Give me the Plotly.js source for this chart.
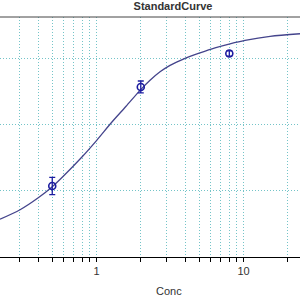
<!DOCTYPE html>
<html>
<head>
<meta charset="utf-8">
<script src="https://cdn.plot.ly/plotly-3.0.1.min.js"></script>
<style>html,body{margin:0;padding:0;background:#fff;}#chart{width:300px;height:300px;}</style>
</head>
<body>
<div id="chart"></div>
<script>
// Fitted standard curve
const curveConc = [0.2206, 0.302, 0.406, 0.500, 0.594, 0.793, 1.003, 1.269, 1.588, 1.977, 2.312, 2.704, 3.162, 4.0, 5.06, 6.40, 8.09, 10.24, 15.15, 24.2];
const curveOD   = [0.569, 0.712, 0.900, 1.059, 1.217, 1.504, 1.760, 2.032, 2.273, 2.514, 2.665, 2.793, 2.891, 2.997, 3.080, 3.155, 3.216, 3.268, 3.329, 3.367];
// Standards (mean and error)
const stdConc = [0.5, 2, 8];
const stdOD   = [1.07, 2.565, 3.07];
const stdErr  = [0.13, 0.09, 0.04];
// Axis ticks
const xTickVals = [0.3,0.4,0.5,0.6,0.7,0.8,0.9,1,2,3,4,5,6,7,8,9,10,20];
const xTickText = ['','','','','','','','1','','','','','','','','','10',''];
const yTickVals = [1, 2, 3];

const navy = '#1c1ca0';
const traces = [
  {x: curveConc, y: curveOD, type: 'scatter', mode: 'lines', line: {color: '#44448c', width: 1.3, shape: 'spline', smoothing: 0.8}, hoverinfo: 'skip'},
  {x: stdConc, y: stdOD, type: 'scatter', mode: 'markers',
   marker: {symbol: 'circle-open', size: 7, color: navy, line: {width: 1.6, color: navy}},
   error_y: {type: 'data', array: stdErr, visible: true, color: navy, thickness: 1.3, width: 3}}
];
const layout = {
  width: 300, height: 300,
  margin: {l: 0, r: 0, t: 17, b: 43, pad: 0},
  paper_bgcolor: '#fff', plot_bgcolor: '#fff',
  showlegend: false,
  font: {family: 'Liberation Sans, Arial, sans-serif', size: 11, color: '#333'},
  title: {text: '<b>StandardCurve</b>', font: {size: 11, color: '#333'}, xref: 'container', yref: 'container', x: 173/300, xanchor: 'center', y: 1 - 6.5/300, yanchor: 'middle'},
  xaxis: {
    type: 'log', range: [Math.log10(0.2206), Math.log10(24.2)],
    tickmode: 'array', tickvals: xTickVals, ticktext: xTickText,
    ticks: 'outside', ticklen: 4, tickcolor: '#000', tickwidth: 1,
    showline: true, linecolor: '#000', linewidth: 1,
    showgrid: true, gridcolor: '#74c4c8', griddash: '1px,2px', gridwidth: 1,
    zeroline: false, tickfont: {size: 11, color: '#333'}
  },
  yaxis: {
    range: [0, 3.62], tickmode: 'array', tickvals: yTickVals,
    showticklabels: false, ticks: '', showline: false,
    showgrid: true, gridcolor: '#74c4c8', griddash: '1px,2px', gridwidth: 1, zeroline: false
  },
  shapes: [
    {type: 'line', xref: 'paper', yref: 'paper', x0: 0, x1: 1, y0: 1, y1: 1, line: {color: '#444', width: 1}}
  ],
  annotations: [
    {text: 'Conc', xref: 'paper', yref: 'paper', x: 169/300, y: -(290.5-256.7)/240, xanchor: 'center', yanchor: 'middle', showarrow: false, font: {size: 11, color: '#333'}}
  ]
};
Plotly.newPlot('chart', traces, layout, {displayModeBar: false, staticPlot: true});
</script>
</body>
</html>
